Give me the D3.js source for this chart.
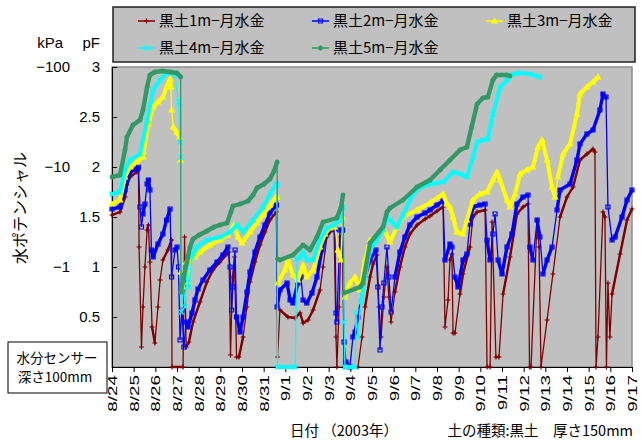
<!DOCTYPE html>
<html>
<head>
<meta charset="utf-8">
<script src="https://cdn.jsdelivr.net/npm/d3@7"></script>
<style>
  body { margin: 0; background: #fff; }
  .num { font-family: "Liberation Sans", Arial, sans-serif; }
  .jp { font-family: "Noto Sans CJK JP", "Noto Sans", sans-serif; }
</style>
</head>
<body>
<svg id="chart" width="641" height="443"></svg>
<script>
// date ticks (day index 0 = 8/24)
var dateLabels = ["8/24","8/25","8/26","8/27","8/28","8/29","8/30","8/31",
  "9/1","9/2","9/3","9/4","9/5","9/6","9/7","9/8","9/9","9/10","9/11","9/12",
  "9/13","9/14","9/15","9/16","9/17"];
var pfTicks = [0.5, 1, 1.5, 2, 2.5, 3];
var kpaTicks = [3, 2, 1];
var kpaLabels = ["\u2212100", "\u221210", "\u22121"];

var seriesNames = ["黒土1m\u2212月水金", "黒土2m\u2212月水金", "黒土3m\u2212月水金",
  "黒土4m\u2212月水金", "黒土5m\u2212月水金"];

// [day, pF]
var s1m = [[0,1.52],[0.37,1.55],[0.60,1.70],[0.69,1.82],[0.83,1.90],[1.15,1.95],[1.22,1.97],[1.25,1.20],[1.36,0.20],[1.43,0.60],[1.52,1.00],[1.62,1.37],[1.68,1.42],[1.75,1.05],[1.85,0.40],[1.98,0.24],[2.12,0.60],[2.22,0.87],[2.35,1.07],[2.58,1.17],[2.75,1.27],[2.77,0.0],[3.28,0.0],[3.35,1.30],[3.42,0.20],[3.55,0.25],[3.74,0.45],[4.06,0.65],[4.38,0.85],[4.66,0.97],[4.98,1.05],[5.31,1.13],[5.40,1.15],[5.47,0.12],[5.56,0.90],[5.65,1.10],[5.75,0.10],[5.86,0.10],[6.05,0.30],[6.23,0.60],[6.37,0.85],[6.60,1.05],[6.83,1.22],[7.06,1.35],[7.29,1.47],[7.59,1.55],[7.64,0.10],[7.75,0.57],[8.12,0.50],[8.45,0.49],[8.68,0.54],[8.82,0.44],[9.05,0.47],[9.28,0.57],[9.60,0.77],[9.74,1.00],[9.92,1.30],[10.06,1.35],[10.25,1.37],[10.34,0.30],[10.38,0.0],[10.48,0.60],[10.57,1.30],[10.64,1.35],[10.71,0.0],[11.35,0.0],[11.54,0.30],[11.68,0.60],[11.91,0.90],[12.05,1.03],[12.23,1.12],[12.32,0.60],[12.42,0.30],[12.55,0.70],[12.69,1.00],[12.78,0.70],[12.88,0.45],[13.06,0.75],[13.29,1.00],[13.52,1.20],[13.75,1.33],[14.08,1.42],[14.45,1.48],[14.68,1.51],[15.00,1.56],[15.28,1.60],[15.37,0.40],[15.51,0.67],[15.60,1.07],[15.69,1.13],[15.74,0.34],[15.83,0.34],[16.06,0.73],[16.20,0.93],[16.52,1.20],[16.66,1.50],[16.85,1.55],[17.22,1.57],[17.31,0.0],[17.45,0.0],[17.54,1.45],[17.72,0.10],[17.86,0.10],[18.05,0.73],[18.37,1.10],[18.69,1.53],[18.97,1.60],[19.20,1.63],[19.27,0.0],[19.34,0.0],[19.62,1.47],[19.71,1.20],[19.80,0.0],[20.08,0.47],[20.35,0.93],[20.68,1.50],[21.00,1.70],[21.28,1.80],[21.60,2.07],[21.92,2.13],[22.20,2.18],[22.29,2.15],[22.34,0.0],[22.43,0.30],[22.66,1.55],[22.75,1.50],[22.82,0.0],[22.89,0.84],[22.98,0.30],[23.08,0.73],[23.45,1.13],[23.77,1.47],[24.0,1.58]];

var s2m = [[0,1.58],[0.37,1.60],[0.60,1.77],[0.83,1.95],[1.15,1.98],[1.22,2.00],[1.29,1.60],[1.36,1.40],[1.43,1.53],[1.52,1.63],[1.62,1.83],[1.68,1.87],[1.75,1.77],[1.82,1.17],[1.90,1.10],[2.12,1.23],[2.35,1.33],[2.52,1.47],[2.68,1.58],[2.75,0.90],[2.91,1.17],[3.00,1.20],[3.07,1.00],[3.14,0.27],[3.23,0.57],[3.32,0.20],[3.42,0.45],[3.51,0.40],[3.69,0.54],[3.83,0.67],[3.97,0.78],[4.20,0.87],[4.52,0.97],[4.85,1.05],[5.12,1.12],[5.35,1.20],[5.45,1.00],[5.52,0.57],[5.58,0.80],[5.68,1.17],[5.75,0.50],[5.91,0.35],[6.05,0.50],[6.23,0.75],[6.37,0.95],[6.60,1.15],[6.83,1.30],[7.06,1.42],[7.29,1.54],[7.59,1.62],[7.62,0.60],[7.75,0.77],[8.08,0.84],[8.22,0.67],[8.35,0.64],[8.58,0.84],[8.72,0.90],[8.82,0.67],[8.99,0.64],[9.23,0.74],[9.46,0.90],[9.69,1.17],[9.92,1.35],[10.15,1.39],[10.29,1.38],[10.34,0.54],[10.38,0.45],[10.52,1.37],[10.64,1.37],[10.71,0.25],[10.80,0.05],[10.98,0.0],[11.12,0.30],[11.22,0.35],[11.35,0.50],[11.58,0.84],[11.91,1.07],[12.18,1.17],[12.27,0.80],[12.37,0.17],[12.46,0.60],[12.55,0.84],[12.69,1.20],[12.78,0.90],[12.88,0.55],[13.06,0.90],[13.29,1.15],[13.52,1.30],[13.75,1.42],[14.08,1.50],[14.45,1.54],[14.68,1.57],[15.00,1.62],[15.28,1.66],[15.37,1.07],[15.60,1.23],[15.69,1.20],[15.83,0.90],[15.97,0.80],[16.20,1.07],[16.38,1.13],[16.52,1.43],[16.66,1.60],[16.98,1.62],[17.22,1.63],[17.31,1.27],[17.45,1.07],[17.58,1.33],[17.68,1.53],[17.82,1.07],[18.00,0.93],[18.23,1.20],[18.46,1.33],[18.69,1.63],[18.97,1.70],[19.20,1.72],[19.29,1.20],[19.43,1.07],[19.62,1.47],[19.75,1.30],[19.89,0.93],[20.08,1.07],[20.31,1.20],[20.54,1.57],[20.68,1.77],[21.14,1.83],[21.46,2.07],[21.60,2.23],[21.92,2.33],[22.20,2.37],[22.52,2.57],[22.66,2.73],[22.80,2.70],[22.89,1.60],[23.08,1.27],[23.22,1.30],[23.54,1.50],[23.77,1.67],[24.0,1.77]];

var s3m = [[0,1.63],[0.37,1.67],[0.60,1.90],[0.83,2.00],[1.15,2.05],[1.43,2.10],[1.68,2.43],[1.90,2.60],[2.12,2.65],[2.35,2.70],[2.52,2.80],[2.68,2.88],[2.72,2.80],[2.75,2.57],[2.83,2.40],[2.99,2.35],[3.11,2.30],[3.17,2.07],[3.18,0.95],[3.28,0.80],[3.42,1.05],[3.51,0.85],[3.65,1.10],[3.83,1.10],[4.06,1.15],[4.52,1.22],[4.98,1.27],[5.35,1.32],[5.63,1.42],[5.82,1.30],[6.00,1.24],[6.37,1.35],[6.69,1.44],[6.97,1.52],[7.29,1.62],[7.57,1.70],[7.62,1.70],[7.66,0.84],[7.98,0.97],[8.12,1.07],[8.35,0.92],[8.58,0.87],[8.82,1.02],[8.99,0.90],[9.28,0.97],[9.60,1.20],[9.83,1.33],[10.06,1.39],[10.29,1.40],[10.43,1.17],[10.56,1.07],[10.65,1.50],[10.75,0.70],[10.98,0.84],[11.22,0.90],[11.45,0.77],[11.68,1.07],[11.91,1.27],[12.23,1.30],[12.51,1.40],[12.83,1.25],[13.15,1.40],[13.43,1.50],[14.08,1.57],[14.68,1.64],[15.28,1.73],[15.46,1.63],[15.60,1.60],[15.74,1.50],[15.92,1.35],[16.20,1.33],[16.38,1.47],[16.66,1.67],[16.98,1.73],[17.31,1.75],[17.58,1.87],[17.77,1.95],[17.91,1.87],[18.23,1.67],[18.37,1.60],[18.60,1.73],[18.83,1.93],[19.15,1.97],[19.43,2.00],[19.66,2.20],[19.85,2.27],[20.08,2.07],[20.31,1.80],[20.45,1.70],[20.58,1.90],[20.82,2.13],[21.14,2.23],[21.46,2.53],[21.60,2.73],[21.92,2.80],[22.20,2.85],[22.43,2.90]];

var s4m = [[0,1.73],[0.37,1.75],[0.60,1.97],[0.83,2.07],[1.29,2.13],[1.62,2.47],[1.90,2.77],[2.22,2.87],[2.52,2.94],[2.72,2.95],[2.91,2.92],[3.07,2.65],[3.14,2.25],[3.18,2.10],[3.20,0.55],[3.28,0.90],[3.37,0.60],[3.46,1.00],[3.55,0.80],[3.69,1.10],[3.83,1.17],[3.92,1.20],[4.38,1.27],[4.98,1.30],[5.45,1.35],[5.77,1.42],[6.05,1.35],[6.51,1.47],[6.97,1.60],[7.29,1.73],[7.57,1.83],[7.62,1.82],[7.64,0],[8.45,0],[8.54,1.08],[8.68,1.10],[8.82,1.15],[9.00,1.07],[9.28,1.07],[9.60,1.27],[9.92,1.39],[10.25,1.42],[10.52,1.47],[10.66,1.60],[10.71,0.45],[10.75,0],[11.22,0],[11.26,0.55],[11.35,0.30],[11.49,0.65],[11.68,0.90],[11.91,1.17],[12.23,1.27],[12.51,1.37],[12.69,1.50],[12.83,1.47],[13.15,1.40],[13.43,1.52],[13.75,1.67],[14.08,1.78],[14.68,1.83],[15.28,1.85],[15.74,1.95],[16.06,1.93],[16.38,1.90],[16.66,2.10],[16.85,2.25],[17.12,2.27],[17.35,2.28],[17.58,2.53],[17.91,2.80],[18.23,2.87],[18.51,2.93],[18.83,2.94],[19.29,2.93],[19.75,2.90]];

var s5m = [[0,1.90],[0.37,1.92],[0.60,2.17],[0.69,2.30],[0.97,2.42],[1.29,2.47],[1.43,2.57],[1.62,2.80],[1.75,2.92],[1.98,2.95],[2.31,2.96],[2.68,2.95],[3.00,2.94],[3.17,2.90],[3.18,0.75],[3.32,0.92],[3.46,1.05],[3.60,1.20],[3.74,1.28],[4.02,1.32],[4.38,1.36],[4.71,1.40],[4.98,1.42],[5.31,1.44],[5.49,1.55],[5.58,1.61],[5.91,1.63],[6.28,1.66],[6.51,1.72],[6.69,1.79],[7.02,1.83],[7.29,1.88],[7.48,1.96],[7.62,2.05],[7.64,1.08],[7.75,1.07],[8.35,1.12],[8.82,1.22],[9.14,1.17],[9.46,1.30],[9.74,1.45],[10.38,1.49],[10.57,1.60],[10.66,1.72],[10.71,0.74],[11.45,0.80],[11.58,0.84],[11.91,1.24],[12.51,1.40],[12.69,1.55],[12.83,1.59],[13.43,1.67],[14.08,1.80],[14.68,1.87],[15.14,1.97],[15.60,2.07],[16.06,2.17],[16.38,2.20],[16.60,2.40],[16.85,2.63],[17.12,2.69],[17.35,2.70],[17.58,2.87],[17.75,2.92],[18.23,2.92],[18.37,2.91]];

var seriesColors = ["#800000", "#0000ff", "#ffff00", "#00ffff", "#339966"];
var seriesMarks = ["plus", "square", "triangle", "times", "star"];
var seriesData = [s1m, s2m, s3m, s4m, s5m];
var thickWidth = [2.4, 3.4, 4, 4, 4.4];

var svg = d3.select("#chart");
var x = d3.scaleLinear().domain([0, 24]).range([112, 632]);
var y = d3.scaleLinear().domain([0, 3]).range([367, 67]);

// plot background
svg.append("rect")
    .attr("x", x(0)).attr("y", y(3))
    .attr("width", x(24) - x(0)).attr("height", y(0) - y(3))
    .style("fill", "#c0c0c0")
    .style("stroke", "#8c8c8c")
    .style("stroke-width", "1.5px");

// axes
var xAxis = d3.axisBottom(x)
    .tickValues(d3.range(dateLabels.length))
    .tickFormat(function(i) { return dateLabels[i]; })
    .tickSizeInner(5).tickSizeOuter(0);
var gx = svg.append("g")
    .attr("transform", "translate(0," + y(0) + ")")
    .call(xAxis);
gx.selectAll("text")
    .attr("class", "num")
    .attr("transform", "rotate(-90) scale(1.45,1)")
    .attr("x", -5.5).attr("y", 0).attr("dy", "0.35em")
    .style("text-anchor", "end")
    .style("font-size", "13px")
    .style("fill", "#000");

var yAxis = d3.axisLeft(y)
    .tickValues(pfTicks)
    .tickFormat(function(v) { return String(v); })
    .tickSizeInner(-5).tickSizeOuter(0).tickPadding(12);
var gy = svg.append("g")
    .attr("transform", "translate(" + x(0) + ",0)")
    .call(yAxis);
gy.selectAll("text")
    .attr("class", "num")
    .style("font-size", "15px")
    .style("fill", "#000");

svg.selectAll(".kpa")
    .data(kpaTicks)
    .enter().append("text")
    .attr("class", "num kpa")
    .attr("x", 70)
    .attr("y", function(v) { return y(v); })
    .attr("dy", "0.35em")
    .style("text-anchor", "end")
    .style("font-size", "15px")
    .text(function(v, i) { return kpaLabels[i]; });

svg.append("text").attr("class", "num").attr("x", 63).attr("y", 43)
    .attr("dy", "0.35em").style("text-anchor", "end").style("font-size", "15px").text("kPa");
svg.append("text").attr("class", "num").attr("x", 100).attr("y", 43)
    .attr("dy", "0.35em").style("text-anchor", "end").style("font-size", "15px").text("pF");

svg.append("text").attr("class", "jp")
    .attr("transform", "translate(20,208) rotate(-90)")
    .attr("dy", "0.35em")
    .style("text-anchor", "middle")
    .style("font-size", "16px")
    .text("水ポテンシャル");

function markerPath(type, s) {
  if (type == "plus") return "M" + (-s) + ",0H" + s + "M0," + (-s) + "V" + s;
  if (type == "times") return "M" + (-s) + "," + (-s) + "L" + s + "," + s + "M" + (-s) + "," + s + "L" + s + "," + (-s);
  if (type == "star") return "M" + (-s) + ",0H" + s + "M0," + (-s) + "V" + s +
      "M" + (-s * 0.7) + "," + (-s * 0.7) + "L" + (s * 0.7) + "," + (s * 0.7) +
      "M" + (-s * 0.7) + "," + (s * 0.7) + "L" + (s * 0.7) + "," + (-s * 0.7);
  if (type == "square") return "M" + (-s) + "," + (-s) + "H" + s + "V" + s + "H" + (-s) + "Z";
  return "M0," + (-s) + "L" + s + "," + (s * 0.8) + "L" + (-s) + "," + (s * 0.8) + "Z";
}

function drawMarker(g, type, color, px, py) {
  var filled = (type == "triangle");
  g.append("path")
      .attr("transform", "translate(" + px + "," + py + ")")
      .attr("d", markerPath(type, type == "square" ? 2 : 2.5))
      .style("fill", filled ? color : "none")
      .style("stroke", color)
      .style("stroke-width", "1.2px");
}

// series
seriesData.forEach(function(data, k) {
  var g = svg.append("g");
  var pts = data.map(function(d) { return [x(d[0]), y(d[1])]; });
  var color = seriesColors[k];

  g.append("path")
      .attr("d", d3.line()(pts))
      .style("stroke", color)
      .style("fill", "none")
      .style("stroke-width", "1.3px");

  // dense hourly markers make gentle stretches look thick
  for (var i = 1; i < pts.length; i++) {
    var dx = Math.abs(pts[i][0] - pts[i - 1][0]);
    var dy = Math.abs(pts[i][1] - pts[i - 1][1]);
    if (dy < 6 * dx + 3) {
      g.append("line")
          .attr("x1", pts[i - 1][0]).attr("y1", pts[i - 1][1])
          .attr("x2", pts[i][0]).attr("y2", pts[i][1])
          .style("stroke", color)
          .style("stroke-width", thickWidth[k] + "px")
          .style("stroke-linecap", "round");
    }
  }
  pts.forEach(function(p) { drawMarker(g, seriesMarks[k], color, p[0], p[1]); });
});

// legend
svg.append("rect")
    .attr("x", 113).attr("y", 7).attr("width", 522).attr("height", 55)
    .style("fill", "#c0c0c0")
    .style("stroke", "#222")
    .style("stroke-width", "1.5px");

var legendX = [138, 312, 486];
var legendY = [21, 48];
seriesNames.forEach(function(name, k) {
  var lx = legendX[k % 3], ly = legendY[Math.floor(k / 3)];
  var g = svg.append("g");
  g.append("line")
      .attr("x1", lx).attr("y1", ly).attr("x2", lx + 17).attr("y2", ly)
      .style("stroke", seriesColors[k]).style("stroke-width", "1.5px");
  drawMarker(g, seriesMarks[k], seriesColors[k], lx + 8.5, ly);
  g.append("text")
      .attr("class", "jp")
      .attr("x", lx + 21).attr("y", ly)
      .attr("dy", "0.35em")
      .style("font-size", "15px")
      .text(name);
});

// sensor note box
svg.append("rect")
    .attr("x", 8).attr("y", 342).attr("width", 99).attr("height", 51)
    .style("fill", "#fff").style("stroke", "#000").style("stroke-width", "1px");
svg.append("text").attr("class", "jp").attr("x", 57).attr("y", 358)
    .attr("dy", "0.35em").style("text-anchor", "middle").style("font-size", "13.5px").text("水分センサー");
svg.append("text").attr("class", "jp").attr("x", 55).attr("y", 377)
    .attr("dy", "0.35em").style("text-anchor", "middle").style("font-size", "13.5px").text("深さ100mm");

svg.append("text").attr("class", "jp").attr("x", 290).attr("y", 431)
    .attr("dy", "0.35em").style("font-size", "14.5px").text("日付 （2003年）");
svg.append("text").attr("class", "jp").attr("x", 633).attr("y", 431)
    .attr("dy", "0.35em").style("text-anchor", "end").style("font-size", "14.5px").text("土の種類:黒土\u3000厚さ150mm");
</script>
</body>
</html>
